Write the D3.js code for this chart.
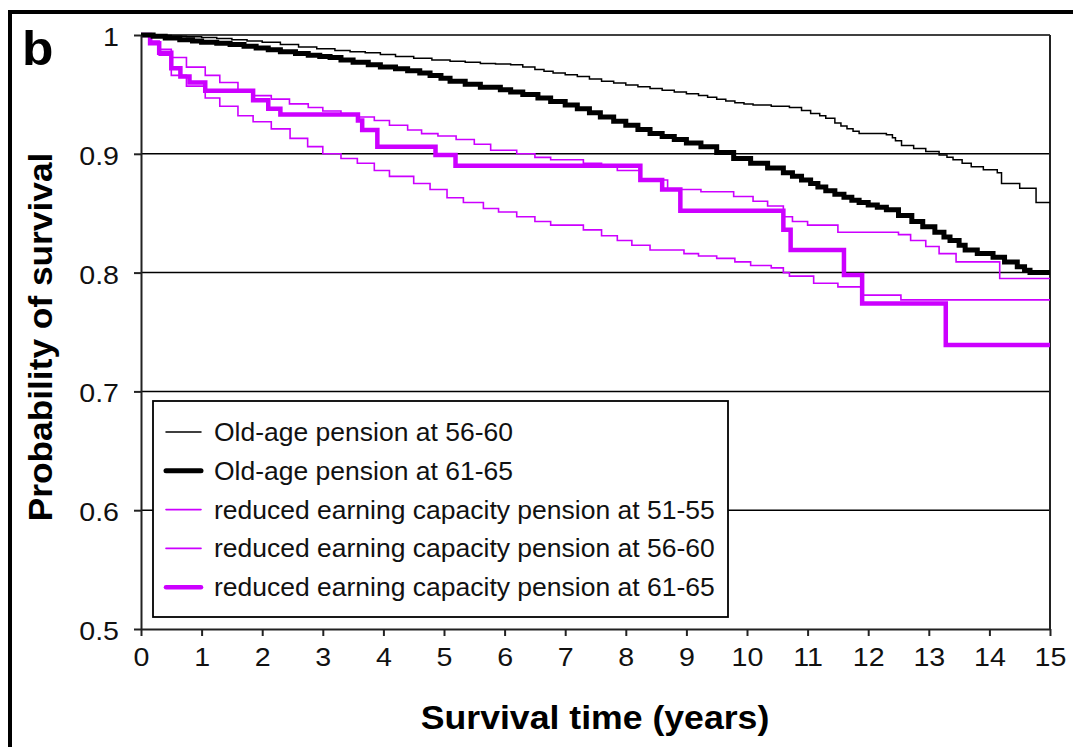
<!DOCTYPE html>
<html>
<head>
<meta charset="utf-8">
<script src="https://cdn.jsdelivr.net/npm/d3@7"></script>
<style>
  html, body { margin: 0; padding: 0; background: #fff; }
  svg { display: block; font-family: "Liberation Sans", Arial, sans-serif; }
</style>
</head>
<body>
<svg id="chart" width="1073" height="747"></svg>
<script>
// Kaplan-Meier survival estimates (time in years, probability of survival)
const oldAge5660T = [0, 0.25, 0.5, 0.75, 1.0, 1.25, 1.5, 1.75, 2.0, 2.3, 2.6, 2.9, 3.2, 3.45, 3.7, 3.95, 4.2, 4.5, 4.8, 5.1, 5.35, 5.6, 5.85, 6.1, 6.3, 6.5, 6.65, 6.8, 7.0, 7.2, 7.4, 7.6, 7.8, 8.0, 8.2, 8.4, 8.6, 8.8, 9.0, 9.2, 9.35, 9.5, 9.65, 9.8, 9.95, 10.1, 10.4, 10.7, 10.9, 11.05, 11.2, 11.3, 11.45, 11.55, 11.65, 11.75, 11.85, 12.3, 12.4, 12.45, 12.55, 12.75, 12.95, 13.17, 13.3, 13.4, 13.55, 13.7, 13.9, 14.13, 14.2, 14.5, 14.77, 15];
const oldAge5660S = [1, 0.9995, 0.999, 0.9985, 0.998, 0.997, 0.996, 0.995, 0.994, 0.992, 0.990, 0.9885, 0.987, 0.986, 0.985, 0.9835, 0.982, 0.9805, 0.979, 0.978, 0.977, 0.976, 0.9755, 0.975, 0.973, 0.971, 0.9695, 0.968, 0.9665, 0.965, 0.963, 0.961, 0.9595, 0.958, 0.9565, 0.955, 0.9535, 0.952, 0.9505, 0.949, 0.9475, 0.946, 0.9445, 0.943, 0.942, 0.941, 0.940, 0.939, 0.9365, 0.934, 0.932, 0.930, 0.926, 0.9235, 0.921, 0.919, 0.917, 0.916, 0.9135, 0.911, 0.907, 0.9045, 0.902, 0.899, 0.897, 0.895, 0.892, 0.889, 0.8865, 0.884, 0.875, 0.871, 0.859, 0.859];

const oldAge6165T = [0, 0.2, 0.4, 0.64, 0.85, 1.0, 1.25, 1.47, 1.7, 1.9, 2.1, 2.3, 2.55, 2.76, 2.95, 3.12, 3.3, 3.5, 3.75, 3.95, 4.2, 4.4, 4.6, 4.77, 4.95, 5.1, 5.35, 5.6, 5.93, 6.1, 6.3, 6.55, 6.76, 7.0, 7.2, 7.4, 7.58, 7.8, 8.0, 8.2, 8.4, 8.6, 8.8, 9.0, 9.24, 9.5, 9.78, 10.06, 10.34, 10.6, 10.75, 10.9, 11.05, 11.17, 11.3, 11.45, 11.6, 11.73, 11.85, 12.0, 12.15, 12.3, 12.5, 12.72, 12.9, 13.1, 13.25, 13.35, 13.5, 13.6, 13.8, 14.06, 14.25, 14.46, 14.58, 14.67, 15];
const oldAge6165S = [1, 0.999, 0.9975, 0.996, 0.995, 0.994, 0.993, 0.992, 0.9905, 0.989, 0.9875, 0.986, 0.9845, 0.983, 0.982, 0.981, 0.979, 0.977, 0.975, 0.973, 0.9715, 0.970, 0.968, 0.966, 0.9635, 0.961, 0.9585, 0.956, 0.954, 0.952, 0.950, 0.947, 0.944, 0.941, 0.938, 0.9345, 0.931, 0.9275, 0.924, 0.9205, 0.917, 0.9145, 0.912, 0.909, 0.906, 0.901, 0.896, 0.892, 0.888, 0.884, 0.881, 0.878, 0.875, 0.872, 0.869, 0.866, 0.8635, 0.861, 0.859, 0.857, 0.855, 0.853, 0.848, 0.843, 0.8385, 0.834, 0.830, 0.827, 0.823, 0.819, 0.816, 0.813, 0.809, 0.805, 0.802, 0.800, 0.800];

const reduced5155T = [0, 0.17, 0.3, 0.5, 0.75, 1.06, 1.3, 1.6, 1.85, 2.15, 2.46, 2.75, 3.0, 3.3, 3.57, 3.85, 4.1, 4.5, 4.77, 5.05, 5.32, 5.65, 5.9, 6.2, 6.5, 6.76, 7.3, 7.6, 7.86, 8.1, 8.4, 8.96, 9.2, 9.5, 9.8, 10.06, 10.4, 10.6, 10.7, 11.1, 11.5, 11.9, 12.54, 15];
const reduced5155S = [1, 0.993, 0.983, 0.966, 0.957, 0.947, 0.940, 0.932, 0.927, 0.921, 0.913, 0.906, 0.900, 0.896, 0.892, 0.886, 0.881, 0.875, 0.870, 0.863, 0.859, 0.854, 0.851, 0.847, 0.843, 0.840, 0.836, 0.831, 0.827, 0.823, 0.819, 0.816, 0.814, 0.812, 0.809, 0.806, 0.804, 0.800, 0.797, 0.791, 0.788, 0.781, 0.777, 0.777];

const reduced5660T = [0, 0.17, 0.3, 0.5, 0.75, 1.06, 1.3, 1.6, 1.85, 2.15, 2.45, 2.76, 3.0, 3.3, 3.57, 3.85, 4.1, 4.4, 4.63, 4.9, 5.2, 5.5, 5.77, 6.2, 6.5, 6.76, 7.3, 7.6, 7.86, 8.24, 8.69, 9.24, 9.78, 10.1, 10.34, 10.6, 10.75, 11.0, 11.5, 12.5, 12.7, 12.95, 13.17, 13.45, 14.17, 15];
const reduced5660S = [1, 0.995, 0.988, 0.981, 0.973, 0.966, 0.960, 0.953, 0.949, 0.946, 0.942, 0.939, 0.936, 0.933, 0.931, 0.928, 0.924, 0.920, 0.917, 0.915, 0.912, 0.908, 0.903, 0.900, 0.897, 0.895, 0.892, 0.889, 0.886, 0.878, 0.870, 0.868, 0.864, 0.860, 0.856, 0.847, 0.843, 0.840, 0.834, 0.832, 0.827, 0.822, 0.816, 0.809, 0.795, 0.795];

const reduced6165T = [0, 0.15, 0.3, 0.5, 0.65, 0.8, 1.06, 1.85, 2.1, 2.3, 3.58, 3.65, 3.9, 4.86, 5.19, 8.24, 8.6, 8.9, 10.6, 10.72, 11.6, 11.9, 13.28, 15];
const reduced6165S = [1, 0.993, 0.985, 0.972, 0.965, 0.960, 0.953, 0.945, 0.938, 0.933, 0.928, 0.920, 0.906, 0.899, 0.890, 0.878, 0.870, 0.852, 0.836, 0.819, 0.798, 0.774, 0.739, 0.739];

const seriesLabels = [
  "Old-age pension at 56-60",
  "Old-age pension at 61-65",
  "reduced earning capacity pension at 51-55",
  "reduced earning capacity pension at 56-60",
  "reduced earning capacity pension at 61-65"
];
const xTicks = d3.range(0, 16);
const yTicks = [0.5, 0.6, 0.7, 0.8, 0.9, 1];

const MAGENTA = "#cc00ff";
const series = [
  { label: seriesLabels[0], t: oldAge5660T, s: oldAge5660S, color: "#000", width: 1.5 },
  { label: seriesLabels[1], t: oldAge6165T, s: oldAge6165S, color: "#000", width: 5 },
  { label: seriesLabels[2], t: reduced5155T, s: reduced5155S, color: MAGENTA, width: 1.6 },
  { label: seriesLabels[3], t: reduced5660T, s: reduced5660S, color: MAGENTA, width: 1.6 },
  { label: seriesLabels[4], t: reduced6165T, s: reduced6165S, color: MAGENTA, width: 4.5 }
];

const svg = d3.select("#chart");
const plotLeft = 141, plotRight = 1050, plotTop = 35, plotBottom = 629;
const x = d3.scaleLinear().domain([0, 15]).range([plotLeft, plotRight]);
const y = d3.scaleLinear().domain([0.5, 1]).range([plotBottom, plotTop]);
// type in the figure is set slightly wide
const WIDE = 1.1;

// outer panel frame
svg.append("rect").attr("x", 10).attr("y", 12).attr("width", 1100).attr("height", 800)
  .attr("fill", "none").attr("stroke", "#000").attr("stroke-width", 4);

// panel letter
svg.append("text").attr("transform", "translate(22,65) scale(1.05,1)")
  .attr("font-size", 49).attr("font-weight", "bold").text("b");

// horizontal gridlines and top border
svg.append("g").selectAll("line").data(yTicks.filter(d => d > 0.5)).join("line")
  .attr("x1", plotLeft).attr("x2", plotRight).attr("y1", d => y(d)).attr("y2", d => y(d))
  .attr("stroke", "#000").attr("stroke-width", 1.5);
// right border
svg.append("line").attr("x1", plotRight).attr("x2", plotRight).attr("y1", plotTop).attr("y2", plotBottom)
  .attr("stroke", "#222").attr("stroke-width", 2);

// survival curves
const line = d3.line().curve(d3.curveStepAfter).x(d => x(d[0])).y(d => y(d[1]));
const drawOrder = [2, 3, 0, 4, 1];
svg.append("g").selectAll("path").data(drawOrder.map(i => series[i])).join("path")
  .attr("d", d => line(d.t.map((t, i) => [t, d.s[i]])))
  .attr("fill", "none").attr("stroke", d => d.color).attr("stroke-width", d => d.width)
  .attr("stroke-linejoin", "miter");

// axes
const yAxis = d3.axisLeft(y).tickValues(yTicks).tickSize(7).tickSizeOuter(0).tickPadding(13)
  .tickFormat(d => d === 1 ? "1" : d.toFixed(1));
const xAxis = d3.axisBottom(x).tickValues(xTicks).tickSize(7).tickSizeOuter(0).tickPadding(12)
  .tickFormat(d3.format("d"));
const gy = svg.append("g").attr("transform", `translate(${plotLeft},0)`).call(yAxis);
const gx = svg.append("g").attr("transform", `translate(0,${plotBottom})`).call(xAxis);
[gx, gy].forEach(g => {
  g.select(".domain").attr("stroke", "#222").attr("stroke-width", 2);
  g.selectAll(".tick line").attr("stroke", "#222").attr("stroke-width", 2);
  g.selectAll(".tick text").attr("font-size", 26).attr("fill", "#111")
    .attr("font-family", "Liberation Sans, Arial, sans-serif")
    .attr("transform", `scale(${WIDE},1)`);
});
gy.selectAll(".tick text").attr("dy", "0.4em");

// axis titles
svg.append("text").attr("transform", "translate(595,729) scale(1.08,1)").attr("text-anchor", "middle")
  .attr("font-size", 33).attr("font-weight", "bold").text("Survival time (years)");
svg.append("text").attr("transform", "translate(52,337) rotate(-90) scale(1.07,1)").attr("text-anchor", "middle")
  .attr("font-size", 33).attr("font-weight", "bold").text("Probability of survival");

// legend
const lg = svg.append("g");
lg.append("rect").attr("x", 153).attr("y", 401).attr("width", 575).attr("height", 216)
  .attr("fill", "#fff").attr("stroke", "#000").attr("stroke-width", 1.8);
const rowY = i => 432 + i * 38.8;
lg.selectAll("line.key").data(series).join("line").attr("class", "key")
  .attr("x1", 166).attr("x2", 201).attr("y1", (d, i) => rowY(i)).attr("y2", (d, i) => rowY(i))
  .attr("stroke", d => d.color).attr("stroke-width", d => d.width).attr("stroke-linecap", "round");
lg.selectAll("text").data(series).join("text")
  .attr("transform", (d, i) => `translate(214,${rowY(i)}) scale(1.06,1)`).attr("dy", "0.36em")
  .attr("font-size", 25).attr("fill", "#111").text(d => d.label);
</script>
</body>
</html>
